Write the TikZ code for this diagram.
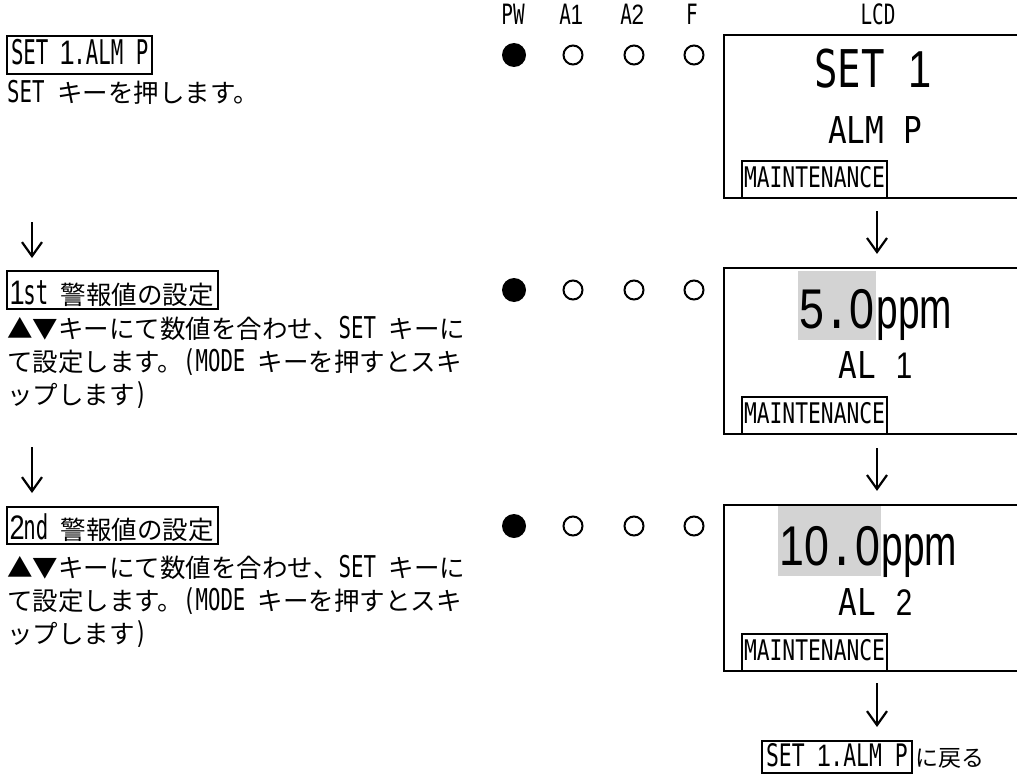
\documentclass[tikz,border=0pt]{standalone}
\usepackage{fontspec}
\usetikzlibrary{arrows.meta}
\newfontfamily\jp{Noto Sans CJK JP}
\newfontfamily\hw[FakeStretch=0.69]{DejaVu Sans Mono}
\newfontfamily\hwB[FakeStretch=0.61]{DejaVu Sans Mono}
\newfontfamily\lcdA[FakeStretch=0.75]{DejaVu Sans Mono}
\newfontfamily\lcdB[FakeStretch=0.84]{DejaVu Sans Mono}
\newfontfamily\ppmf[FakeStretch=0.67]{Liberation Sans}
\newfontfamily\dg[FakeStretch=0.8]{Liberation Sans}
\definecolor{lcdgray}{RGB}{211,211,211}
\newlength\cw
\newcommand\D[1]{\settowidth\cw{0}{\dg\makebox[\cw][c]{#1}}}
\newcommand\LA[1]{{\hw\fontsize{30}{30}\selectfont #1}}
\newcommand\LB[1]{{\hwB\fontsize{34}{34}\selectfont #1}}
\newcommand\JA[1]{{\jp\fontsize{25.5}{25.5}\selectfont #1}}
\newcommand\TOP[1]{{\hw\fontsize{28}{28}\selectfont #1}}
\newcommand\BIG[1]{{\lcdA\fontsize{56}{56}\selectfont #1}}
\newcommand\BIGS[1]{{\lcdA\fontsize{52}{52}\selectfont #1}}
\newcommand\MID[1]{{\lcdB\fontsize{37}{37}\selectfont #1}}
\newcommand\PPM[1]{{\ppmf\fontsize{58}{58}\selectfont #1}}
\newcommand\MT[1]{{\lcdA\fontsize{28.4}{28.4}\selectfont #1}}
\begin{document}
\begin{tikzpicture}[x=1pt,y=-1pt,
  txt/.style={inner sep=0pt,anchor=base west},
  lbox/.style={draw,line width=2pt,inner xsep=4pt,inner ysep=0pt,anchor=base west},
  lcd/.style={draw,line width=2.2pt,rectangle,minimum width=306pt,inner sep=0pt},
  mbox/.style={draw,line width=2pt,inner xsep=2pt,inner ysep=0pt,text height=26pt,text depth=11pt,anchor=base west},
  hl/.style={fill=lcdgray,inner xsep=1pt,inner ysep=0pt,anchor=base west},
  ledon/.style={circle,fill=black,minimum size=24pt,inner sep=0pt},
  ledoff/.style={circle,draw=black,line width=2pt,minimum size=19pt,inner sep=0pt},
  toplbl/.style={inner sep=0pt,anchor=base},
  arr/.style={line width=2.2pt,-{Straight Barb[length=14pt,width=20pt,line width=2.2pt]}}]
\path[use as bounding box] (0,0) rectangle (1017,776);
\clip (0,0) rectangle (1017,776);
\fill[white] (0,0) rectangle (1017,776);

% header labels
\node[toplbl] (hPW) at (513,25) {\TOP{PW}};
\node[toplbl] (hA1) at (571,25) {\TOP{A\D{1}}};
\node[toplbl] (hA2) at (632,25) {\TOP{A\D{2}}};
\node[toplbl] (hF) at (692,25) {\TOP{F}};
\node[toplbl] (hLCD) at (878,25) {\TOP{LCD}};

% LED rows
\foreach \r/\yy in {1/55,2/290,3/526}{
  \node[ledon] (pw\r) at (514,\yy) {};
  \node[ledoff] (aa\r) at (573,\yy) {};
  \node[ledoff] (ab\r) at (634,\yy) {};
  \node[ledoff] (ff\r) at (694,\yy) {};
}

% left column
\node[lbox,text height=29pt,text depth=9pt] (s1) at (6,65) {\LB{SET \D{1}.ALM P}};
\node[txt] (s1t) at (7,102) {\LA{SET }\JA{キーを押します。}};
\coordinate (la1s) at (32,222);
\coordinate (la1e) at (32,258);
\draw[arr] (la1s) -- (la1e);

\node[lbox,text height=33pt,text depth=5pt] (s2) at (6,304) {\LB{\D{1}st }\JA{警報値の設定}};
\node[txt] (s2a) at (7,338) {\JA{▲▼キーにて数値を合わせ、}\LA{SET }\JA{キーに}};
\node[txt] (s2b) at (7,371) {\JA{て設定します。}\LA{(MODE }\JA{キーを押すとスキ}};
\node[txt] (s2c) at (7,404) {\JA{ップします}\LA{)}};
\coordinate (la2s) at (32,447);
\coordinate (la2e) at (32,493);
\draw[arr] (la2s) -- (la2e);

\node[lbox,text height=32pt,text depth=5pt] (s3) at (6,539) {\LB{\D{2}nd }\JA{警報値の設定}};
\node[txt] (s3a) at (7,577) {\JA{▲▼キーにて数値を合わせ、}\LA{SET }\JA{キーに}};
\node[txt] (s3b) at (7,610) {\JA{て設定します。}\LA{(MODE }\JA{キーを押すとスキ}};
\node[txt] (s3c) at (7,643) {\JA{ップします}\LA{)}};

% LCD boxes
\node[lcd,minimum height=163pt] (lcd1) at (877,116.5) {};
\node[lcd,minimum height=166pt] (lcd2) at (877,351) {};
\node[lcd,minimum height=166pt] (lcd3) at (877,588) {};

% LCD 1
\node[toplbl] (l1a) at (873,87) {\BIGS{SET \D{1}}};
\node[toplbl] (l1b) at (875,143) {\MID{ALM P}};
\node[mbox] (m1) at (741,187) {\MT{MAINTENANCE}};

% LCD 2
\node[hl,text height=57pt,text depth=12pt] (v2) at (798,328) {\BIG{\D{5}.\D{0}}};
\node[txt] (u2) at (v2.base east) {\PPM{ppm}};
\node[toplbl] (l2b) at (876,378) {\MID{AL \D{1}}};
\node[mbox] (m2) at (741,423) {\MT{MAINTENANCE}};

% LCD 3
\node[hl,text height=59pt,text depth=11pt] (v3) at (778,565) {\BIG{\D{1}\D{0}.\D{0}}};
\node[txt] (u3) at (v3.base east) {\PPM{ppm}};
\node[toplbl] (l3b) at (876,615) {\MID{AL \D{2}}};
\node[mbox] (m3) at (741,660) {\MT{MAINTENANCE}};

% return label
\node[lbox,text height=25pt,text depth=7pt] (back) at (761,766) {{\hw\fontsize{31}{31}\selectfont SET \D{1}.ALM P}};
\node[txt] (backt) at ([xshift=3pt]back.base east) {{\jp\fontsize{23}{23}\selectfont に戻る}};

% right arrows
\draw[arr,shorten <=12pt,shorten >=13pt] (lcd1) -- (lcd2);
\draw[arr,shorten <=13pt,shorten >=13pt] (lcd2) -- (lcd3);
\draw[arr,shorten <=11pt,shorten >=13pt] (lcd3.south) -- (lcd3.south |- back.north);
\end{tikzpicture}
\end{document}
